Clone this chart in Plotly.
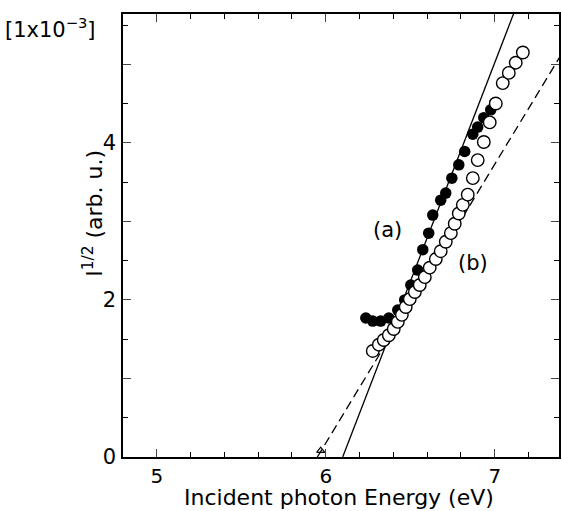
import numpy as np
import plotly.graph_objects as go

# Filled circles, curve (a)
a_energy = [6.237, 6.278, 6.325, 6.373, 6.426, 6.467, 6.503, 6.544, 6.574, 6.609,
            6.633, 6.680, 6.710, 6.746, 6.787, 6.822, 6.870, 6.899, 6.935, 6.976, 7.000]
a_sqrtI = [1.77, 1.73, 1.73, 1.77, 1.87, 2.00, 2.19, 2.38, 2.64, 2.85,
           3.08, 3.27, 3.36, 3.55, 3.72, 3.89, 4.11, 4.20, 4.32, 4.42, 4.51]

# Open circles, curve (b)
b_energy = [6.278, 6.314, 6.343, 6.373, 6.402, 6.426, 6.450, 6.473, 6.497, 6.527,
            6.556, 6.586, 6.615, 6.651, 6.680, 6.710, 6.740, 6.763, 6.787, 6.811,
            6.840, 6.870, 6.899, 6.935, 6.970, 7.006, 7.047, 7.083, 7.124, 7.166]
b_sqrtI = [1.35, 1.43, 1.49, 1.55, 1.63, 1.72, 1.81, 1.91, 2.01, 2.10,
           2.19, 2.29, 2.41, 2.52, 2.62, 2.74, 2.85, 2.97, 3.10, 3.21,
           3.34, 3.55, 3.78, 4.01, 4.26, 4.50, 4.76, 4.89, 5.02, 5.15]

# Linear extrapolation lines: (threshold energy, slope)
fit_a = (6.10, 5.58)   # solid
fit_b = (5.95, 3.55)   # dashed
line_energy = [5.9, 7.5]

x_range = [4.8, 7.38]
y_range = [0, 5.64]

def line(fit):
    e0, k = fit
    xs = np.array([e0, line_energy[1]])
    return xs, k * (xs - e0)

fig = go.Figure()
xa, ya = line(fit_a)
xb, yb = line(fit_b)
fig.add_trace(go.Scatter(x=xa, y=ya, mode="lines", line=dict(color="black", width=1.3),
                         showlegend=False, hoverinfo="skip"))
fig.add_trace(go.Scatter(x=xb, y=yb, mode="lines",
                         line=dict(color="black", width=1.3, dash="9px,5px"),
                         showlegend=False, hoverinfo="skip"))
fig.add_trace(go.Scatter(x=[fit_b[0] + 0.02], y=[0.08], mode="markers",
                         marker=dict(symbol="triangle-up-open", size=7, color="black",
                                     line=dict(width=1.2)), showlegend=False))
fig.add_trace(go.Scatter(x=a_energy, y=a_sqrtI, mode="markers",
                         marker=dict(symbol="circle", size=11.5, color="black"),
                         showlegend=False))
fig.add_trace(go.Scatter(x=b_energy, y=b_sqrtI, mode="markers",
                         marker=dict(symbol="circle", size=12.5, color="white",
                                     line=dict(color="black", width=1.4)),
                         showlegend=False))

font = "DejaVu Sans, Liberation Sans, Arial, sans-serif"
fig.update_layout(
    width=562, height=511,
    margin=dict(l=123, r=3, t=14, b=54, autoexpand=False),
    paper_bgcolor="white", plot_bgcolor="white",
    font=dict(family=font, size=20, color="black"),
    xaxis=dict(range=x_range, tickvals=[5, 6, 7], ticks="inside", ticklen=8,
               tickwidth=1.3, showline=True, linecolor="black", linewidth=1.5,
               mirror="ticks", showgrid=False, zeroline=False, automargin=False,
               minor=dict(dtick=0.2, tick0=5, ticks="inside", ticklen=5, tickwidth=1.2,
                          tickcolor="black", showgrid=False),
               tickfont=dict(size=20), ticklabelstandoff=0),
    yaxis=dict(range=y_range, tickvals=[0, 1, 2, 3, 4, 5],
               ticktext=["0", "", "2", "", "4", ""], ticks="inside", ticklen=8,
               tickwidth=1.3, showline=True, linecolor="black", linewidth=1.5,
               mirror="ticks", showgrid=False, zeroline=False, automargin=False,
               minor=dict(dtick=0.5, ticks="inside", ticklen=5, tickwidth=1.2,
                          tickcolor="black", showgrid=False),
               tickfont=dict(size=21), ticklabelstandoff=1),
    annotations=[
        dict(text="Incident photon Energy (eV)", xref="paper", yref="paper",
             x=0.495, y=-0.091, xanchor="center", yanchor="middle", showarrow=False,
             font=dict(size=22)),
        dict(text="I<sup>1/2</sup> (arb. u.)", textangle=-90, xref="paper", yref="paper",
             x=-0.069, y=0.551, xanchor="center", yanchor="middle", showarrow=False,
             font=dict(size=22)),
        dict(text="[1x10<sup>\u22123</sup>]", xref="paper", yref="paper",
             x=-0.275, y=1.005, xanchor="left", yanchor="top", showarrow=False,
             font=dict(size=21)),
        dict(text="(a)", x=6.367, y=2.89, showarrow=False, font=dict(size=21)),
        dict(text="(b)", x=6.87, y=2.47, showarrow=False, font=dict(size=21)),
    ],
)
fig.write_html("out.html", config={"displayModeBar": False},
               post_script="document.body.style.margin='0';document.body.style.overflow='hidden';")
